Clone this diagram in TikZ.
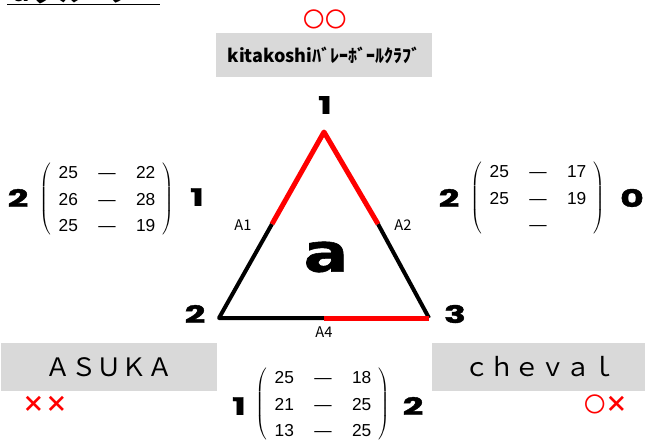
\documentclass[tikz,border=0pt]{standalone}
\usepackage{fontspec}
\setmainfont{Liberation Sans}
\newfontfamily\jpfont{Noto Sans CJK JP}
\newfontfamily\bigfont{Poppins}[BoldFeatures={FakeBold=1.5}]
\newfontfamily\grpfont{DejaVu Sans}[BoldFeatures={FakeBold=1}]
\usetikzlibrary{matrix,positioning}
\definecolor{boxgray}{HTML}{D9D9D9}
\newcommand{\wide}[2][1.5]{\scalebox{#1}[1]{#2}}
\tikzset{every picture/.style={line width=0.75pt}}
\tikzset{
  score/.style={matrix of nodes, left delimiter=(, right delimiter=), inner xsep=3pt, inner ysep=3pt,
    nodes={font=\fontsize{13}{15}\selectfont, text height=9.4pt, text depth=0pt, inner sep=0pt, minimum width=16pt},
    row sep=10.4pt, column sep=13pt},
  setnum/.style={font=\bigfont\bfseries\fontsize{18}{20}\selectfont, inner sep=0pt},
  teambox/.style={fill=boxgray, inner sep=0pt, minimum width=162pt, minimum height=36pt},
  resmark/.style={red, font=\jpfont\fontsize{16}{16}\selectfont, inner sep=0pt},
  alabel/.style={font=\jpfont\fontsize{11}{11}\selectfont, inner sep=0pt},
  edgeblk/.style={line width=3pt, line join=round},
  edgered/.style={red, line width=3.75pt, line join=round}
}

\begin{document}
\begin{tikzpicture}[x=0.75pt, y=-0.75pt]
    \useasboundingbox (0,0) rectangle (645,440);

    % タイトル
    \node[anchor=base west, inner sep=0pt, font=\jpfont\bfseries\fontsize{19}{19}\selectfont] (title) at (8,1) {ａグループ};
    \draw (7,4) -- (160,4);

    % 上のチーム
    \node[resmark] (res1) at (325,19) {〇〇};
    \node[teambox, minimum height=33pt, font=\jpfont\bfseries\fontsize{13.5}{13.5}\selectfont] (team1) at (324,55) {kitakoshiﾊﾞﾚｰﾎﾞｰﾙｸﾗﾌﾞ};

    % 三角形
    \coordinate (v1) at (324,132);
    \coordinate (v2) at (219,318);
    \coordinate (v3) at (429,318);
    \coordinate (a1) at (272,224);
    \coordinate (a2) at (378,224);
    \coordinate (a4) at (324,318);
    \draw[edgeblk] (a1) -- (v2) -- (a4);
    \draw[edgeblk] (a2) -- (v3);
    \draw[edgered] (a1) -- (v1) -- (a2);
    \draw[edgered] (a4) -- (v3);

    \node[setnum] (n1) at (325,105) {\wide{1}};
    \node[setnum] (n2) at (195,314) {\wide{2}};
    \node[setnum] (n3) at (455,314) {\wide{3}};
    \node[font=\grpfont\bfseries\fontsize{40}{40}\selectfont, inner sep=0pt] (grp) at (326,257) {\wide[1.25]{a}};

    \node[alabel] (la1) at (243,225) {A1};
    \node[alabel] (la2) at (403,225) {A2};
    \node[alabel] (la4) at (324,332) {A4};

    % 得点
    \matrix[score] (mL) at (107,199) {
      25 & — & 22 \\
      26 & — & 28 \\
      25 & — & 19 \\
    };
    \node[setnum] (sL1) at (18,198) {\wide{2}};
    \node[setnum] (sL2) at (197,197) {\wide{1}};

    \matrix[score] (mR) at (538,198) {
      25 & — & 17 \\
      25 & — & 19 \\
         & — &    \\
    };
    \node[setnum] (sR1) at (449,198) {\wide{2}};
    \node[setnum] (sR2) at (632,198) {\wide{0}};

    \matrix[score] (mB) at (323,404) {
      25 & — & 18 \\
      21 & — & 25 \\
      13 & — & 25 \\
    };
    \node[setnum] (sB1) at (239,406) {\wide{1}};
    \node[setnum] (sB2) at (413,406) {\wide{2}};

    % 下のチーム
    \node[teambox, font=\jpfont\fontsize{19}{19}\selectfont] (team2) at (109,367) {ＡＳＵＫＡ};
    \node[resmark, font=\jpfont\bfseries\fontsize{17}{17}\selectfont] (res2) at (45,404) {××};
    \node[teambox, font=\jpfont\fontsize{19}{19}\selectfont] (team3) at (540,367) {ｃｈｅｖａｌ};
    \node[resmark] (res3) at (606,404) {〇{\bfseries\fontsize{17}{17}\selectfont ×}};
\end{tikzpicture}
\end{document}
